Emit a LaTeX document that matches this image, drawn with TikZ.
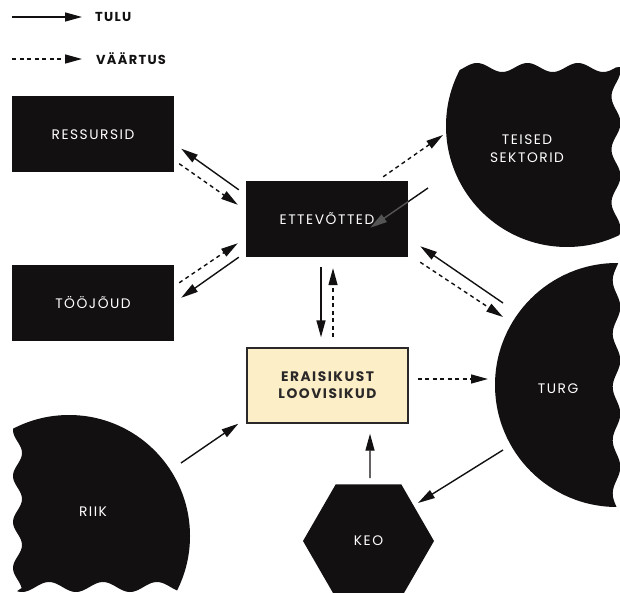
\documentclass[tikz,border=0pt]{standalone}
\usepackage{fontspec}
\setmainfont{Poppins}
\newfontfamily\labelfont[LetterSpace=11]{Poppins}
\newfontfamily\legendfont[LetterSpace=10]{Poppins}
\usetikzlibrary{arrows.meta,shapes.geometric}
\definecolor{ink}{HTML}{121010}
\definecolor{cream}{HTML}{FCEEC6}
\definecolor{darklabel}{HTML}{2A2828}
\definecolor{dimline}{HTML}{555555}
\tikzset{
  labeltype/.style={font=\labelfont\fontsize{13.8}{18}\selectfont},
  blockbox/.style={labeltype, fill=ink, draw=none, minimum width=162pt, minimum height=76pt,
    inner sep=0pt, text=white, align=center},
  blobtext/.style={labeltype, inner sep=0pt, text=white, align=center},
  focusbox/.style={fill=cream, draw=darklabel, line width=1.4pt, minimum width=161pt,
    minimum height=75pt, inner sep=0pt, text=darklabel, align=center,
    font=\labelfont\bfseries\fontsize{13.8}{17}\selectfont},
  hexbox/.style={labeltype, regular polygon, regular polygon sides=6, fill=ink, draw=none,
    minimum size=131pt, inner sep=0pt, text=white},
  legendtext/.style={anchor=west, inner sep=0pt, text=ink,
    font=\legendfont\bfseries\fontsize{13}{15}\selectfont},
  tulu/.style={line width=1.4pt, draw=ink, -{Triangle[length=17pt,width=9pt]}},
  vaartus/.style={tulu, dash pattern=on 4pt off 3.5pt},
}
\begin{document}
\begin{tikzpicture}[x=1pt,y=-1pt]
\useasboundingbox (0,0) rectangle (620,593);

% legend
\coordinate (lgTuluStart) at (12,17);
\coordinate (lgVaartusStart) at (12,59);
\node[legendtext] (lgTulu) at (95,17) {TULU};
\node[legendtext] (lgVaartus) at (96,59) {VÄÄRTUS};
\draw[tulu] (lgTuluStart) -- ([xshift=-13pt]lgTulu.west);
\draw[vaartus] (lgVaartusStart) -- ([xshift=-14pt]lgVaartus.west);

% other sectors: a disc torn along its top and right sides
\begin{scope}
  \clip (440,262) -- plot[domain=440:616,samples=90] (\x,{67.5-4.5*cos((\x-477)/50.5*360)})
    -- plot[variable=\t,domain=67:262,samples=90] ({616+4.5*cos((\t-70)/53*360)},\t) -- cycle;
  \fill[ink] (567,126) circle[radius=121pt];
\end{scope}
\node[blobtext] (teised) at (527,149) {TEISED\\SEKTORID};

% market: a disc torn along its right side
\begin{scope}
  \clip (480,250) -- (617,250)
    -- plot[variable=\t,domain=250:520,samples=110] ({616.5+3.8*cos((\t-307)/53.3*360)},\t)
    -- (480,520) -- cycle;
  \fill[ink] (617,385) circle[radius=122pt];
\end{scope}
\node[blobtext] (turg) at (558,388.5) {TURG};

% state: a disc torn along its left and bottom sides
\begin{scope}
  \clip (210,400) -- (17,400)
    -- plot[variable=\t,domain=400:588,samples=90] ({17.5-4.5*cos((\t-430)/46*360)},\t)
    -- plot[domain=17:210,samples=90] (\x,{587+5*cos((\x-22)/54*360)}) -- cycle;
  \fill[ink] (69,536) circle[radius=121pt];
\end{scope}
\node[blobtext] (riik) at (93,512) {RIIK};

% boxes
\node[blockbox] (res) at (93,134.5) {RESSURSID};
\node[blockbox] (too) at (93,303) {TÖÖJÕUD};
\node[blockbox] (ett) at (327,219) {ETTEVÕTTED};
\node[focusbox] (era) at (327.5,385.5) {ERAISIKUST\\LOOVISIKUD};
\node[hexbox] (keo) at (368.5,541) {KEO};

% resources and labour
\draw[tulu] ([shift={(-7,9)}]ett.north west) -- ([shift={(7,-24)}]res.south east);
\draw[vaartus] ([shift={(5,-9)}]res.south east) -- ([shift={(-8,24)}]ett.north west);
\draw[vaartus] ([shift={(5,18)}]too.north east) -- ([shift={(-8,-14)}]ett.south west);
\draw[tulu] ([shift={(-7,0)}]ett.south west) -- ([shift={(7,33)}]too.north east);

% other sectors
\draw[vaartus] ([shift={(-25,-4)}]ett.north east) -- ([shift={(-84,-14)}]teised.center);
\draw[tulu] ([shift={(-99,39)}]teised.center) -- ([shift={(-38,47)}]ett.north east);
\begin{scope}
  \clip (ett.north west) rectangle (ett.south east);
  \draw[tulu, draw=dimline, fill=dimline] ([shift={(-99,39)}]teised.center) -- ([shift={(-38,47)}]ett.north east);
\end{scope}

% market
\draw[tulu] ([shift={(-55,-85.5)}]turg.center) -- ([shift={(12,-11)}]ett.south east);
\draw[vaartus] ([shift={(12,5)}]ett.south east) -- ([shift={(-55,-71.5)}]turg.center);

% enterprises and creative individuals
\draw[tulu] ([shift={(-6,10)}]ett.south) -- ([shift={(-6.5,-10)}]era.north);
\draw[vaartus] ([shift={(5.5,-10)}]era.north) -- ([shift={(6,11)}]ett.south);
\draw[vaartus] ([shift={(9,-6.5)}]era.east) -- ([shift={(-70,-9.5)}]turg.center);

% state, KEO
\draw[tulu] ([shift={(88,-49)}]riik.center) -- ([shift={(-8,0)}]era.south west);
\draw[tulu] ([shift={(1.5,-6)}]keo.north) -- ([shift={(42.5,10)}]era.south);
\draw[tulu] ([shift={(-55,61.5)}]turg.center) -- ([shift={(49.5,-38)}]keo.center);
\end{tikzpicture}
\end{document}
